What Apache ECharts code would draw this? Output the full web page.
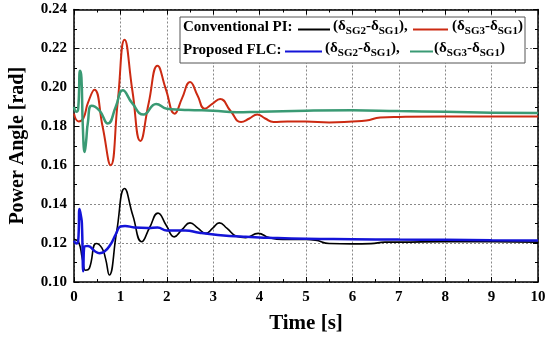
<!DOCTYPE html>
<html>
<head>
<meta charset="utf-8">
<script src="https://cdn.jsdelivr.net/npm/echarts@6/dist/echarts.min.js"></script>
<style>
html,body{margin:0;padding:0;background:#fff;}
#chart{width:550px;height:341px;}
</style>
</head>
<body>
<div id="chart"></div>
<script>
// ---- data ----
const xTicks = [0,1,2,3,4,5,6,7,8,9,10];
const yTicks = [0.10,0.12,0.14,0.16,0.18,0.20,0.22,0.24];

// Conventional PI, (δSG3-δSG1)  (red)
const piSG3_t = [0,0.1,0.2,0.3,0.44,0.615,0.79,0.94,1.09,1.26,1.43,1.61,1.8,1.98,2.17,2.33,2.5,2.66,2.82,2.98,3.15,3.37,3.6,3.78,3.95,4.12,4.3,4.6,5,5.5,6,6.3,6.6,7,8,9,10];
const piSG3_v = [0.1865,0.1825,0.184,0.192,0.1988,0.180,0.160,0.192,0.2245,0.198,0.1725,0.192,0.2111,0.199,0.1865,0.1945,0.2027,0.196,0.189,0.1915,0.194,0.188,0.1822,0.184,0.186,0.184,0.1822,0.1825,0.1825,0.182,0.1825,0.183,0.1845,0.1848,0.185,0.185,0.185];

// Proposed FLC, (δSG3-δSG1)  (green)
const flcSG3_t = [0,0.05,0.09,0.13,0.16,0.19,0.23,0.26,0.3,0.38,0.55,0.73,0.9,1.05,1.25,1.5,1.77,2.0,2.3,2.6,3,3.5,4,5,6,7,8,9,10];
const flcSG3_v = [0.190,0.1875,0.189,0.2085,0.205,0.180,0.1668,0.172,0.182,0.1905,0.188,0.1814,0.19,0.1985,0.192,0.186,0.1915,0.189,0.1885,0.1883,0.188,0.1872,0.1875,0.188,0.1882,0.1878,0.1875,0.187,0.1868];

// Conventional PI, (δSG2-δSG1)  (black)
const piSG2_t = [0,0.1,0.18,0.25,0.33,0.48,0.6,0.68,0.76,0.92,1.09,1.27,1.46,1.63,1.81,1.99,2.16,2.33,2.5,2.67,2.84,2.99,3.13,3.3,3.5,3.7,3.97,4.2,4.5,5,5.2,5.5,6,6.4,6.7,7,8,9,10];
const piSG2_v = [0.1218,0.1205,0.112,0.106,0.107,0.1198,0.1175,0.112,0.1036,0.126,0.148,0.134,0.1207,0.128,0.1354,0.129,0.1232,0.127,0.1304,0.1277,0.125,0.1277,0.1304,0.1275,0.1235,0.1228,0.125,0.1228,0.1218,0.1218,0.1215,0.1198,0.1196,0.1197,0.1205,0.1205,0.1207,0.1207,0.1205];

// Proposed FLC, (δSG2-δSG1)  (blue)
const flcSG2_t = [0,0.05,0.09,0.12,0.15,0.17,0.2,0.22,0.3,0.45,0.55,0.65,0.78,0.9,1.0,1.1,1.3,1.6,1.8,2.0,2.4,2.7,3.1,3.7,4.2,5,6,7,8,9,10];
const flcSG2_v = [0.1212,0.1198,0.121,0.1375,0.134,0.130,0.1055,0.118,0.1185,0.1158,0.1148,0.1155,0.119,0.1245,0.1285,0.1288,0.128,0.1278,0.128,0.1265,0.1265,0.1253,0.1242,0.1232,0.1227,0.1222,0.122,0.1218,0.1217,0.1215,0.1213];

const legendLabels = {
  pi: 'Conventional PI:',
  flc: 'Proposed FLC:'
};

// ---- chart ----
const FONT = '"Liberation Serif","Times New Roman",serif';
const pairs = (t, v) => t.map((x, i) => [x, v[i]]);
const COL = {black:'#000000', red:'#cc2a12', blue:'#1414d8', green:'#3a9a74'};

const chart = echarts.init(document.getElementById('chart'), null, {renderer:'canvas'});

function lineSeries(name, t, v, color, width, z) {
  return {
    name, type:'line', data: pairs(t, v), showSymbol:false, symbol:'none',
    smooth:0.5, z: z,
    lineStyle:{color, width}, animation:false
  };
}

const axisLabelStyle = {color:'#000', fontFamily:FONT, fontWeight:'bold', fontSize:15};

const subRich = {
  a:{fontFamily:FONT, fontWeight:'bold', fontSize:15, lineHeight:20, fill:'#000', color:'#000'},
  s:{fontFamily:FONT, fontWeight:'bold', fontSize:11, lineHeight:12, verticalAlign:'bottom', color:'#000', fill:'#000'}
};
const sg2 = '{a|(δ}{s|SG2}{a|-δ}{s|SG1}{a|),}';
const sg3 = '{a|(δ}{s|SG3}{a|-δ}{s|SG1}{a|)}';

function txt(x, y, text) {
  return {type:'text', left:x, top:y, z:100,
    style:{text, rich:subRich, fill:'#000', font:'bold 15px ' + FONT}};
}
function seg(x1, x2, y, color) {
  return {type:'line', z:100, shape:{x1, y1:y, x2, y2:y}, style:{stroke:color, lineWidth:2}};
}

const option = {
  backgroundColor:'#fff',
  animation:false,
  grid:{left:73, right:12, top:9.5, bottom:59, containLabel:false},
  xAxis:[{
    type:'value', min:0, max:10, interval:1,
    name:'Time [s]', nameLocation:'middle', nameGap:31,
    nameTextStyle:{color:'#000', fontFamily:FONT, fontWeight:'bold', fontSize:21},
    axisLine:{show:true, onZero:false, lineStyle:{color:'#000', width:1.5}},
    axisTick:{show:true, inside:true, length:5, lineStyle:{color:'#000', width:1}},
    minorTick:{show:true, splitNumber:2, length:3, lineStyle:{color:'#000'}},
    axisLabel:Object.assign({margin:8, formatter:v => xTicks.includes(v) ? String(v) : ''}, axisLabelStyle),
    splitLine:{show:true, lineStyle:{color:'#888', type:[2,2], width:1}}
  },{
    type:'value', min:0, max:10, interval:1, position:'top',
    axisLine:{show:true, onZero:false, lineStyle:{color:'#000', width:1.5}},
    axisTick:{show:true, inside:true, length:5, lineStyle:{color:'#000'}},
    minorTick:{show:true, splitNumber:2, length:3, lineStyle:{color:'#000'}},
    axisLabel:{show:false}, splitLine:{show:false}
  }],
  yAxis:[{
    type:'value', min:0.10, max:0.24, interval:0.02,
    name:'Power Angle [rad]', nameLocation:'middle', nameGap:46,
    nameTextStyle:{color:'#000', fontFamily:FONT, fontWeight:'bold', fontSize:20},
    axisLine:{show:true, onZero:false, lineStyle:{color:'#000', width:1.5}},
    axisTick:{show:true, inside:true, length:5, lineStyle:{color:'#000'}},
    minorTick:{show:true, splitNumber:2, length:3, lineStyle:{color:'#000'}},
    axisLabel:Object.assign({margin:7, formatter:v => {
      const m = yTicks.find(t => Math.abs(t - v) < 1e-9);
      return m !== undefined ? m.toFixed(2) : '';
    }}, axisLabelStyle),
    splitLine:{show:true, lineStyle:{color:'#888', type:[2,2], width:1}}
  },{
    type:'value', min:0.10, max:0.24, interval:0.02, position:'right',
    axisLine:{show:true, onZero:false, lineStyle:{color:'#000', width:1.5}},
    axisTick:{show:true, inside:true, length:5, lineStyle:{color:'#000'}},
    minorTick:{show:true, splitNumber:2, length:3, lineStyle:{color:'#000'}},
    axisLabel:{show:false}, splitLine:{show:false}
  }],
  series:[
    lineSeries('PI SG3', piSG3_t, piSG3_v, COL.red, 2, 2),
    lineSeries('FLC SG3', flcSG3_t, flcSG3_v, COL.green, 2.5, 3),
    lineSeries('PI SG2', piSG2_t, piSG2_v, COL.black, 1.6, 2),
    lineSeries('FLC SG2', flcSG2_t, flcSG2_v, COL.blue, 2.5, 3)
  ],
  graphic:[
    {type:'rect', z:99, shape:{x:180, y:17, width:345, height:46},
     style:{fill:'#fff', stroke:'#555', lineWidth:1}},
    {type:'text', z:100, left:183, top:20, style:{text:legendLabels.pi, fill:'#000', font:'bold 15px ' + FONT}},
    seg(298, 330, 29.5, COL.black),
    txt(333, 19, sg2),
    seg(413, 448, 29.5, COL.red),
    txt(452, 19, sg3),
    {type:'text', z:100, left:183, top:43, style:{text:legendLabels.flc, fill:'#000', font:'bold 15px ' + FONT}},
    seg(285, 322, 51.5, COL.blue),
    txt(325, 41, sg2),
    seg(410, 433, 51.5, COL.green),
    txt(434, 41, sg3)
  ]
};
chart.setOption(option);
</script>
</body>
</html>
